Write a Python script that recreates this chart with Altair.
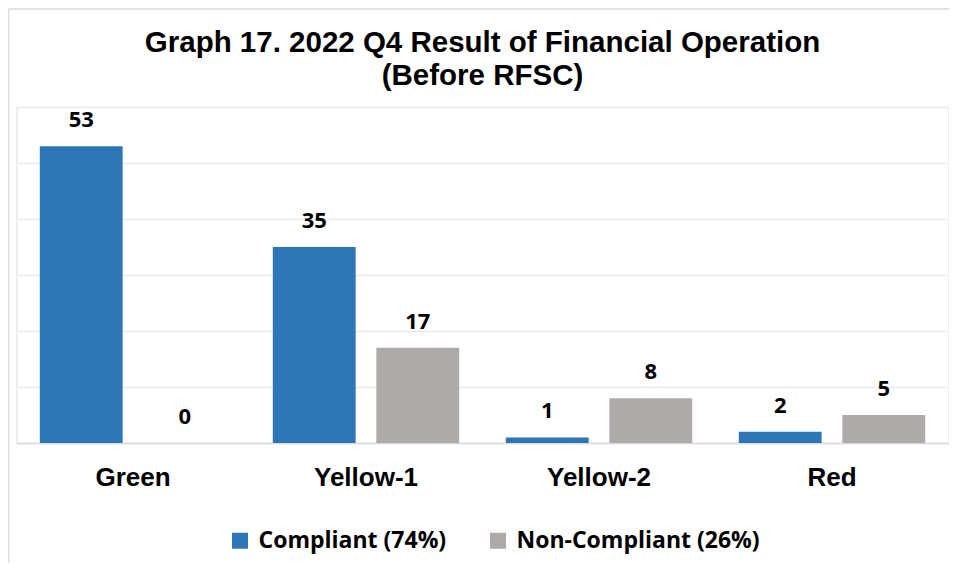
import altair as alt
import pandas as pd

categories = ["Green", "Yellow-1", "Yellow-2", "Red"]
compliant = [53, 35, 1, 2]
non_compliant = [0, 17, 8, 5]
series = ["Compliant (74%)", "Non-Compliant (26%)"]
colors = ["#2E75B6", "#AEAAAA"]
title_lines = ["Graph 17. 2022 Q4 Result of Financial Operation", "(Before RFSC)"]

rows = []
for i, c in enumerate(categories):
    rows.append({"category": c, "series": series[0], "value": compliant[i]})
    rows.append({"category": c, "series": series[1], "value": non_compliant[i]})
df = pd.DataFrame(rows)

x = alt.X(
    "category:N", sort=categories,
    scale=alt.Scale(paddingInner=0.2, paddingOuter=0.1),
    axis=alt.Axis(title=None, labelAngle=0, labelFont="Liberation Sans", labelFontSize=26,
                  labelFontWeight="bold", labelColor="#000000", labelPadding=21, ticks=False,
                  domainColor="#D9D9D9", domainWidth=1.5, grid=False),
)
xo = alt.XOffset("series:N", sort=series, scale=alt.Scale(paddingInner=0.2, paddingOuter=0))
y = alt.Y(
    "value:Q", scale=alt.Scale(domain=[0, 60]),
    axis=alt.Axis(title=None, labels=False, ticks=False, domain=False,
                  values=[0, 10, 20, 30, 40, 50, 60], gridColor="#EAEAEA", gridWidth=1.5),
)
color = alt.Color(
    "series:N", sort=series, scale=alt.Scale(domain=series, range=colors),
    legend=alt.Legend(orient="none", legendX=212, legendY=422, direction="horizontal", title=None,
                      symbolType="square", symbolSize=256, symbolStrokeWidth=0, symbolOpacity=1,
                      labelFont="Open Sans", labelFontSize=23, labelFontWeight="bold",
                      labelColor="#000000", columnPadding=40, labelOffset=7, labelLimit=400),
)

base = alt.Chart(df)
bars = base.mark_bar().encode(x=x, xOffset=xo, y=y, color=color)
labels = base.mark_text(font="Open Sans", fontSize=22, fontWeight="bold", color="#000000",
                        baseline="alphabetic", dy=-19).encode(
    x=alt.X("category:N", sort=categories), xOffset=alt.XOffset("series:N", sort=series),
    y="value:Q", text="value:Q")

frame_df = pd.DataFrame({"k": [0]})
left_line = alt.Chart(frame_df).mark_rule(color="#D9D9D9", strokeWidth=1.5).encode(
    x=alt.value(-8), y=alt.value(-98), y2=alt.value(480))
top_line = alt.Chart(frame_df).mark_rule(color="#D9D9D9", strokeWidth=1.5).encode(
    x=alt.value(-8), x2=alt.value(940), y=alt.value(-98))

chart = alt.layer(bars, labels, left_line, top_line).properties(
    width=932, height=336,
    autosize=alt.AutoSizeParams(type="none"),
    padding={"left": 8.5, "top": 99, "right": 0, "bottom": 120},
    title=alt.TitleParams(title_lines, font="Liberation Sans", fontSize=29.5, fontWeight="bold",
                          color="#000000", anchor="middle", lineHeight=33, offset=0,
                          baseline="bottom", dy=112),
).configure_view(stroke=None).configure(background="white")

chart.save("out.html", embed_options={"renderer": "svg", "actions": False})
